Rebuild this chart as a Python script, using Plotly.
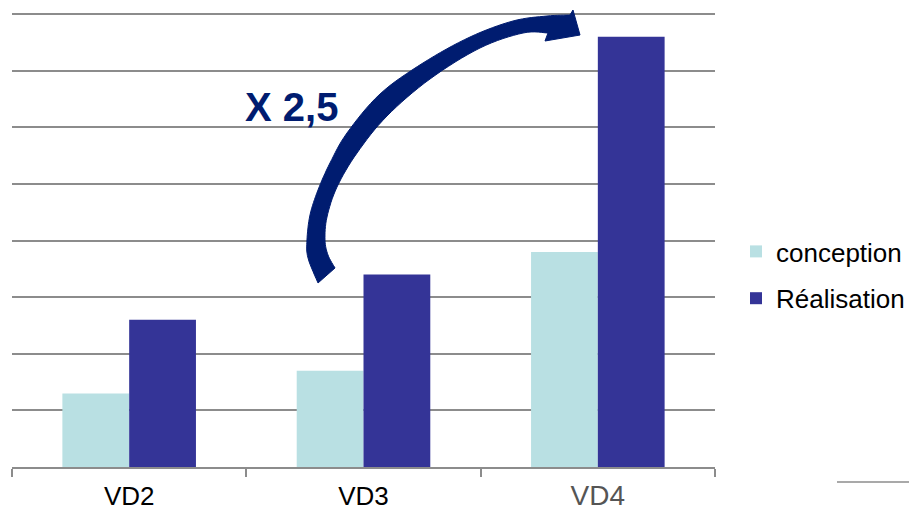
import plotly.graph_objects as go

categories = ["VD2", "VD3", "VD4"]
conception = [1.3, 1.7, 3.8]
realisation = [2.6, 3.4, 7.6]
series_names = ["conception", "Réalisation"]
tick_labels = ["VD2", "VD3", "<span style='font-size:28px;color:#555555'>VD4</span>"]
annotation_text = "X 2,5"

W, H = 909, 510
L, R, T, B = 12, 194, 13, 43
PW, PH = W - L - R, H - T - B
YMAX = 8.02

def px(x, y):
    return (x - L) / PW, (H - B - y) / PH

def catmull(pts, n=8):
    out = []
    for i in range(len(pts) - 1):
        p0 = pts[i - 1] if i > 0 else pts[i]
        p1, p2 = pts[i], pts[i + 1]
        p3 = pts[i + 2] if i + 2 < len(pts) else pts[i + 1]
        for k in range(n):
            t = k / n
            t2, t3 = t * t, t * t * t
            out.append(tuple(0.5 * ((2 * p1[j]) + (-p0[j] + p2[j]) * t
                                    + (2 * p0[j] - 5 * p1[j] + 4 * p2[j] - p3[j]) * t2
                                    + (-p0[j] + 3 * p1[j] - 3 * p2[j] + p3[j]) * t3) for j in range(2)))
    out.append(pts[-1])
    return out

outer = [(318, 283), (308, 258), (307, 240), (310, 215), (318, 190), (330, 163), (347, 133),
         (380, 94), (423, 63), (470, 37), (513, 21), (547, 16), (570, 15)]
head = [(573, 10), (580, 35), (545, 41), (548, 33)]
inner = [(548, 33), (523, 33), (480, 48), (430, 79), (387, 116), (357, 153), (337, 187),
         (327, 217), (325, 240), (328, 255), (335, 268)]
poly = catmull(outer) + head[:-1] + catmull(inner)
path = "M " + " L ".join("%.4f,%.4f" % px(x, y) for x, y in poly) + " Z"

fig = go.Figure()
fig.add_trace(go.Bar(x=categories, y=conception, name=series_names[0], marker_color="#b9e0e3",
                     marker_line_width=0, legendgroup="a"))
fig.add_trace(go.Bar(x=categories, y=realisation, name=series_names[1], marker_color="#343497",
                     marker_line_width=0, legendgroup="b"))

fig.add_shape(type="path", path=path, xref="paper", yref="paper",
              fillcolor="#001c70", line=dict(color="#001c70", width=1), layer="above")
lx0, ly = px(837, 482)
lx1, _ = px(909, 482)
fig.add_shape(type="line", xref="paper", yref="paper", x0=lx0, x1=lx1, y0=ly, y1=ly,
              line=dict(color="#8c8c8c", width=1.5))
ax, ay = px(291, 107)
fig.add_annotation(text="<b>%s</b>" % annotation_text, xref="paper", yref="paper", x=ax, y=ay,
                   xanchor="center", yanchor="middle", showarrow=False,
                   font=dict(size=40, color="#001c70", family="Liberation Sans, Arial"))

lgx, lgy = px(736, 275)
fig.update_layout(
    width=W, height=H, margin=dict(l=L, r=R, t=T, b=B, autoexpand=False),
    paper_bgcolor="white", plot_bgcolor="white",
    barmode="group", bargap=0.43, bargroupgap=0,
    font=dict(family="Liberation Sans, Arial", size=26, color="#000000"),
    legend=dict(x=lgx, y=lgy, xanchor="left", yanchor="middle", traceorder="grouped",
                tracegroupgap=10, font=dict(size=26), bgcolor="rgba(0,0,0,0)"),
    showlegend=True,
)
fig.update_xaxes(tickmode="array", tickvals=categories, ticktext=tick_labels, automargin=False,
                 showline=True, linecolor="#8c8c8c", linewidth=1.5,
                 ticks="outside", tickson="boundaries", ticklen=8, tickcolor="#8c8c8c", tickwidth=1.5,
                 ticklabelstandoff=5,
                 showgrid=False, tickfont=dict(size=26, color="#000000"))
fig.update_yaxes(range=[0, YMAX], tickvals=[1, 2, 3, 4, 5, 6, 7, 8], showticklabels=False,
                 showgrid=True, automargin=False,
                 gridcolor="#8c8c8c", gridwidth=1.5, zeroline=False)

fig.write_html("out.html")
